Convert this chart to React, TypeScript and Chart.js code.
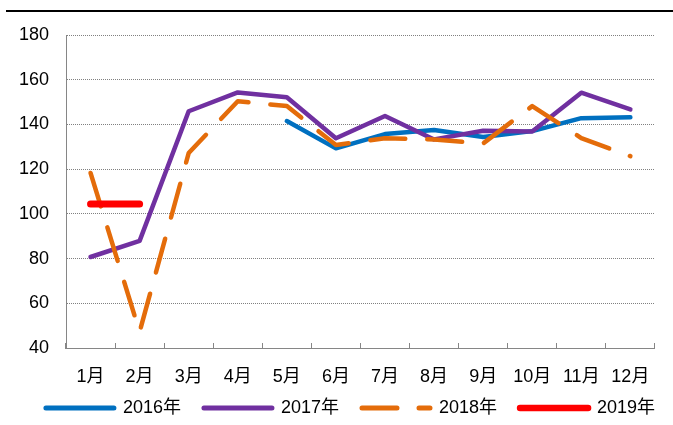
import React, { useEffect, useRef } from 'react';
import { Chart, registerables } from 'chart.js';

Chart.register(...registerables);

const months = ['1月', '2月', '3月', '4月', '5月', '6月', '7月', '8月', '9月', '10月', '11月', '12月'];
const seriesNames = ['2016年', '2017年', '2018年', '2019年'];
const v2016 = [null, null, null, null, 141.5, 129.3, 135.7, 137.5, 134.4, 137.0, 142.8, 143.2];
const v2017 = [80.7, 87.9, 145.9, 154.3, 152.2, 133.8, 143.8, 133.3, 137.2, 136.8, 154.2, 146.7];
const v2018 = [118.3, 47.2, 127.2, 150.4, 148.2, 130.8, 133.8, 133.3, 131.5, 148.2, 133.9, 125.8];
const v2019 = [104.4, 104.4, null, null, null, null, null, null, null, null, null, null];
const yMin = 40;
const yMax = 180;
const yStep = 20;

const seriesColors = ['#0070C0', '#7030A0', '#E46C0A', '#FF0000'];
const lineWidths = [4.5, 4.5, 4.5, 7];
const legendWidths = [5, 5, 5, 6.5];
const dashes: number[][] = [[], [], [35, 22], []];

const FONT = 'Arial, "Liberation Sans", "Noto Sans CJK SC", sans-serif';

const legendShift = {
  id: 'legendShift',
  afterLayout(chart: any) {
    const l = chart.legend;
    if (l) {
      l.left += 26.5;
      l.right += 26.5;
    }
  },
};

export default function App() {
  const ref = useRef<HTMLCanvasElement>(null);

  useEffect(() => {
    document.body.style.margin = '0';
    const values = [v2016, v2017, v2018, v2019];
    const datasets = values.map((vals, i) => ({
      label: seriesNames[i],
      data: vals,
      borderColor: seriesColors[i],
      backgroundColor: seriesColors[i],
      borderWidth: lineWidths[i],
      borderDash: dashes[i],
      borderCapStyle: 'round' as const,
      borderJoinStyle: 'round' as const,
      pointRadius: 0,
      pointHoverRadius: 0,
      fill: false,
      tension: 0,
      spanGaps: false,
      order: values.length - i,
    }));

    const chart = new Chart(ref.current!, {
      type: 'line',
      data: { labels: months, datasets },
      plugins: [legendShift],
      options: {
        animation: false,
        responsive: false,
        events: [],
        layout: { padding: { top: 35, left: 0, right: 15, bottom: -2 } },
        plugins: {
          tooltip: { enabled: false },
          legend: {
            position: 'bottom',
            labels: {
              usePointStyle: true,
              pointStyle: 'line',
              pointStyleWidth: 68,
              padding: 13,
              color: '#000',
              font: { family: FONT, size: 18 },
              generateLabels: () =>
                seriesNames.map((name, i) => ({
                  text: name + '  ',
                  datasetIndex: i,
                  fillStyle: seriesColors[i],
                  strokeStyle: seriesColors[i],
                  lineWidth: legendWidths[i],
                  lineDash: dashes[i],
                  lineCap: 'round',
                  lineJoin: 'round',
                  pointStyle: 'line',
                  hidden: false,
                  fontColor: '#000',
                })),
            },
          },
        },
        scales: {
          x: {
            offset: true,
            grid: {
              offset: true,
              drawOnChartArea: false,
              drawTicks: true,
              tickLength: -5,
              color: '#868686',
            },
            border: { display: true, color: '#868686', width: 1 },
            ticks: {
              color: '#000',
              font: { family: FONT, size: 18 },
              padding: 23,
              maxRotation: 0,
              autoSkip: false,
            },
            afterFit: (scale: any) => {
              scale.height = 38;
            },
          },
          y: {
            min: yMin,
            max: yMax,
            ticks: {
              stepSize: yStep,
              color: '#000',
              font: { family: FONT, size: 18 },
              padding: 17,
            },
            grid: { color: '#808080', drawTicks: false, lineWidth: 1 },
            border: { display: true, color: '#868686', width: 1, dash: [1, 1] },
            afterFit: (scale: any) => {
              scale.width = 66;
            },
          },
        },
      },
    });
    return () => chart.destroy();
  }, []);

  return (
    <div style={{ position: 'relative', width: 673, height: 425, background: '#fff' }}>
      <div style={{ position: 'absolute', left: 6, right: 0, top: 10, height: 2, background: '#000' }} />
      <canvas ref={ref} width={673} height={425} style={{ display: 'block' }} />
    </div>
  );
}
